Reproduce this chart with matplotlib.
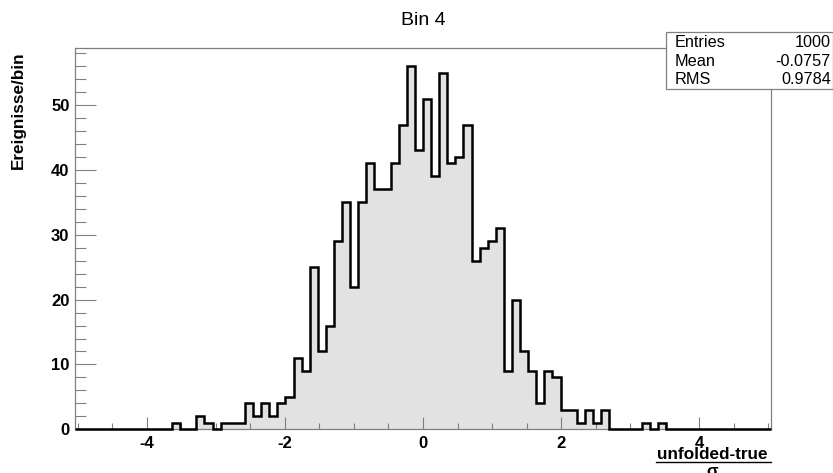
import numpy as np
import matplotlib
matplotlib.use("Agg")
import matplotlib.pyplot as plt
from matplotlib.patches import Rectangle
from matplotlib.lines import Line2D
from matplotlib.ticker import MultipleLocator

plt.rcParams['font.family'] = ['Liberation Sans', 'DejaVu Sans']
plt.rcParams['axes.unicode_minus'] = False

# Histogram of (unfolded - true) / sigma, 86 bins over [-5.04, 5.04]
x_lo, x_hi, n_bins = -5.04, 5.04, 86
counts = [
    0, 0, 0, 0, 0, 0, 0, 0, 0, 0, 0, 0,
    1, 0, 0, 2, 1, 0, 1, 1, 1, 4,
    2, 4, 2, 4, 5, 11, 9, 25, 12, 16,
    29, 35, 22, 35, 41, 37, 37, 41, 47, 56,
    43, 51, 39, 55, 41, 42, 47, 26, 28, 29,
    31, 9, 20, 12, 9, 4, 9, 8, 3, 3,
    1, 3, 1, 3, 0, 0, 0, 0, 1, 0,
    1, 0, 0, 0, 0, 0, 0, 0, 0, 0,
    0, 0, 0, 0,
]
stat_names = ["Entries", "Mean", "RMS"]
stat_values = ["1000", "-0.0757", "0.9784"]
title = "Bin 4"
y_title = "Ereignisse/bin"
x_num, x_den = "unfolded-true", "\u03c3"

edges = np.linspace(x_lo, x_hi, n_bins + 1)
counts = np.asarray(counts, dtype=float)

W, H = 833, 473
fig = plt.figure(figsize=(W / 100, H / 100), dpi=100)
fl, fr, ft, fb = 75, 771, 48, 429.3
ax = fig.add_axes([fl / W, 1 - fb / H, (fr - fl) / W, (fb - ft) / H])

ax.stairs(counts, edges, fill=True, color="#e2e2e2", zorder=1)
ax.stairs(counts, edges, fill=False, color="black", linewidth=1.8,
          zorder=3, clip_on=False)

ax.set_xlim(x_lo, x_hi)
ax.set_ylim(0, counts.max() * 1.05)

frame_col = "#808080"
for s in ax.spines.values():
    s.set_color(frame_col)
    s.set_linewidth(0.9)

ax.xaxis.set_major_locator(MultipleLocator(2))
ax.xaxis.set_minor_locator(MultipleLocator(0.5))
ax.yaxis.set_major_locator(MultipleLocator(10))
ax.yaxis.set_minor_locator(MultipleLocator(2))
ax.tick_params(axis="both", which="both", direction="in", color=frame_col,
               width=0.8, labelsize=12)
ax.tick_params(axis="x", which="major", length=8.4, pad=5)
ax.tick_params(axis="x", which="minor", length=4.3)
ax.tick_params(axis="y", which="major", length=14.9, pad=4)
ax.tick_params(axis="y", which="minor", length=7.7)
for lab in ax.get_xticklabels() + ax.get_yticklabels():
    lab.set_fontweight("bold")

# title
fig.text(423 / W, 1 - 25 / H, title, ha="center", va="baseline", fontsize=14)

# y-axis title, aligned to the top of the axis
fig.text(18.5 / W, 1 - 51 / H, y_title, rotation=90, ha="center", va="top",
         fontsize=12.3, fontweight="bold")

# x-axis title as a fraction
xc = 712
fig.text(xc / W, 1 - 459 / H, x_num, ha="center", va="baseline",
         fontsize=12.3, fontweight="bold")
fig.add_artist(Line2D([656 / W, 771 / W], [1 - 461.7 / H, 1 - 461.7 / H],
                      color="black", linewidth=1.0, transform=fig.transFigure))
fig.text(xc / W, 1 - 463.5 / H, x_den, ha="center", va="top",
         fontsize=12.3, fontweight="bold")

# statistics box
bx0, bx1, by0, by1 = 666, 832.5, 31.7, 89
fig.add_artist(Rectangle((bx0 / W, 1 - by1 / H), (bx1 - bx0) / W,
                         (by1 - by0) / H, transform=fig.transFigure,
                         facecolor="white", edgecolor=frame_col,
                         linewidth=0.9, zorder=5))
row_y = [42.7, 61.7, 80.0]
for name, val, yy in zip(stat_names, stat_values, row_y):
    fig.text(675 / W, 1 - yy / H, name, ha="left", va="center",
             fontsize=11.7, zorder=6)
    fig.text(831 / W, 1 - yy / H, val, ha="right", va="center",
             fontsize=11.7, zorder=6)

fig.savefig("out.png", dpi=100)
